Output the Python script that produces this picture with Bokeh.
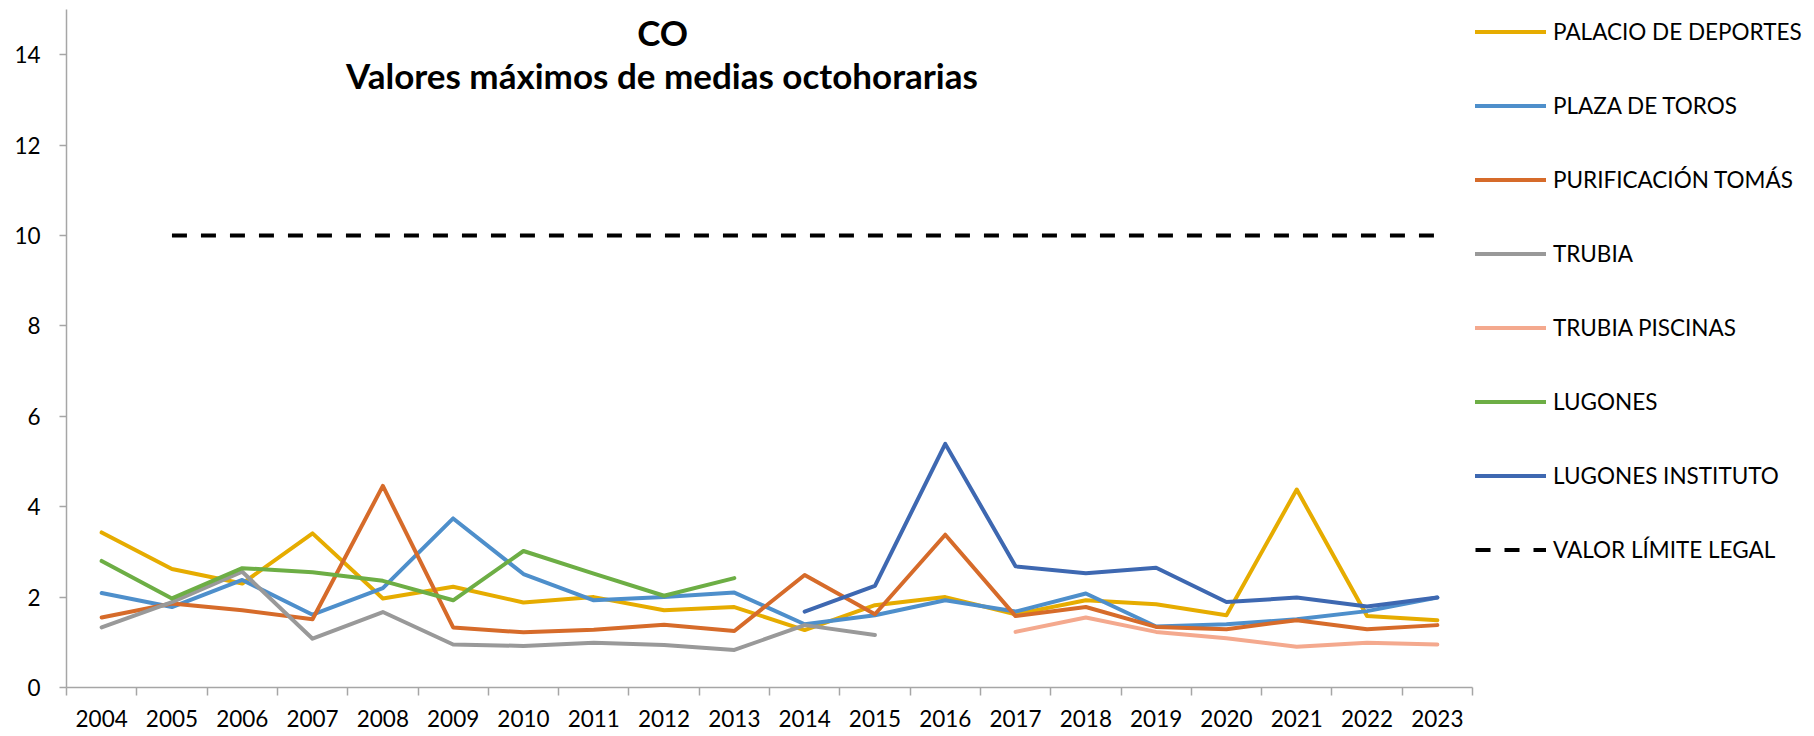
from bokeh.plotting import figure
from bokeh.models import Range1d, FixedTicker, Legend, LegendItem, Label
from bokeh.embed import file_html
from bokeh.resources import INLINE

# ---------------- data ----------------
years = list(range(2004, 2024))

palacio_years = years
palacio = [3.43, 2.62, 2.30, 3.41, 1.97, 2.23, 1.88, 2.00, 1.71, 1.78,
           1.27, 1.82, 2.00, 1.62, 1.93, 1.84, 1.60, 4.38, 1.58, 1.49]

plaza_years = years
plaza = [2.09, 1.78, 2.38, 1.61, 2.20, 3.74, 2.51, 1.93, 2.00, 2.10,
         1.40, 1.60, 1.93, 1.68, 2.08, 1.35, 1.40, 1.51, 1.69, 1.99]

purificacion_years = years
purificacion = [1.55, 1.86, 1.71, 1.51, 4.46, 1.33, 1.22, 1.28, 1.39, 1.25,
                2.49, 1.62, 3.38, 1.58, 1.78, 1.34, 1.29, 1.49, 1.29, 1.38]

trubia_years = list(range(2004, 2016))
trubia = [1.33, 1.89, 2.56, 1.08, 1.67, 0.95, 0.92, 0.99, 0.94, 0.83, 1.38, 1.16]

piscinas_years = list(range(2017, 2024))
piscinas = [1.23, 1.55, 1.23, 1.09, 0.90, 0.99, 0.95]

lugones_years = list(range(2004, 2014))
lugones = [2.80, 1.97, 2.64, 2.55, 2.36, 1.93, 3.02, 2.52, 2.03, 2.42]

instituto_years = list(range(2014, 2024))
instituto = [1.68, 2.25, 5.39, 2.68, 2.53, 2.65, 1.89, 1.99, 1.79, 1.99]

limite_years = list(range(2005, 2024))
limite = [10] * len(limite_years)

y_ticks = [0, 2, 4, 6, 8, 10, 12, 14]

series_names = ["PALACIO DE DEPORTES", "PLAZA DE TOROS", "PURIFICACIÓN TOMÁS",
                "TRUBIA", "TRUBIA PISCINAS", "LUGONES", "LUGONES INSTITUTO"]
series_x = [palacio_years, plaza_years, purificacion_years, trubia_years,
            piscinas_years, lugones_years, instituto_years]
series_y = [palacio, plaza, purificacion, trubia, piscinas, lugones, instituto]
series_colors = ["#E6AC00", "#4E8FCB", "#D66B2A", "#999999", "#F4A98E", "#6DAE45", "#3E68B1"]

title_1 = "CO"
title_2 = "Valores máximos de medias octohorarias"

FONT = "Lato"
AXIS_COLOR = "#A6A6A6"

# ---------------- figure ----------------
p = figure(frame_width=1406, frame_height=678,
           x_range=Range1d(years[0] - 0.5, years[-1] + 0.5),
           y_range=Range1d(0, 15),
           output_backend="svg", toolbar_location=None,
           min_border_left=66, min_border_right=342,
           min_border_top=9, min_border_bottom=49)
p.grid.visible = False
p.outline_line_color = None
p.background_fill_color = "white"
p.border_fill_color = "white"

items = []
for name, xs, ys, col in zip(series_names, series_x, series_y, series_colors):
    r = p.line(xs, ys, line_color=col, line_width=4, line_join="round", line_cap="round")
    items.append(LegendItem(label=name, renderers=[r]))

r_lim = p.line(limite_years, limite, line_color="black", line_width=4, line_dash="15 14")
items.append(LegendItem(label="VALOR LÍMITE LEGAL", renderers=[r_lim]))

# x axis: labels at year centres, tick marks at boundaries (minor ticks)
xa = p.xaxis[0]
xa.ticker = FixedTicker(ticks=years, minor_ticks=[y - 0.5 for y in years] + [years[-1] + 0.5])
xa.major_tick_out = 0
xa.major_tick_in = 0
xa.minor_tick_out = 8
xa.minor_tick_in = 0
xa.minor_tick_line_color = AXIS_COLOR
xa.minor_tick_line_width = 1.5
xa.axis_line_color = AXIS_COLOR
xa.axis_line_width = 1.5
xa.major_label_standoff = 14
xa.major_label_text_font = FONT
xa.major_label_text_font_size = "22.5px"
xa.major_label_text_color = "black"

ya = p.yaxis[0]
ya.ticker = FixedTicker(ticks=y_ticks, minor_ticks=[])
ya.major_tick_out = 7
ya.major_tick_in = 0
ya.minor_tick_out = 0
ya.minor_tick_in = 0
ya.major_tick_line_color = AXIS_COLOR
ya.major_tick_line_width = 1.5
ya.axis_line_color = AXIS_COLOR
ya.axis_line_width = 1.5
ya.major_label_standoff = 19
ya.major_label_text_font = FONT
ya.major_label_text_font_size = "22.5px"
ya.major_label_text_color = "black"

# title
p.add_layout(Label(x=2011.98, y=14.51, text=title_1, text_align="center", text_baseline="middle",
                   text_font=FONT, text_font_style="bold", text_font_size="35px", text_color="black"))
p.add_layout(Label(x=2011.97, y=13.54, text=title_2, text_align="center", text_baseline="middle",
                   text_font=FONT, text_font_style="bold", text_font_size="35px", text_color="black"))

legend = Legend(items=items, location="top_left", margin=3, padding=0,
                spacing=35, label_height=39, glyph_height=39, glyph_width=71,
                label_standoff=7, border_line_color=None, background_fill_alpha=0,
                label_text_font=FONT, label_text_font_size="22.5px", label_text_color="black")
p.add_layout(legend, "right")

open("out.html", "w").write(file_html(p, INLINE))
